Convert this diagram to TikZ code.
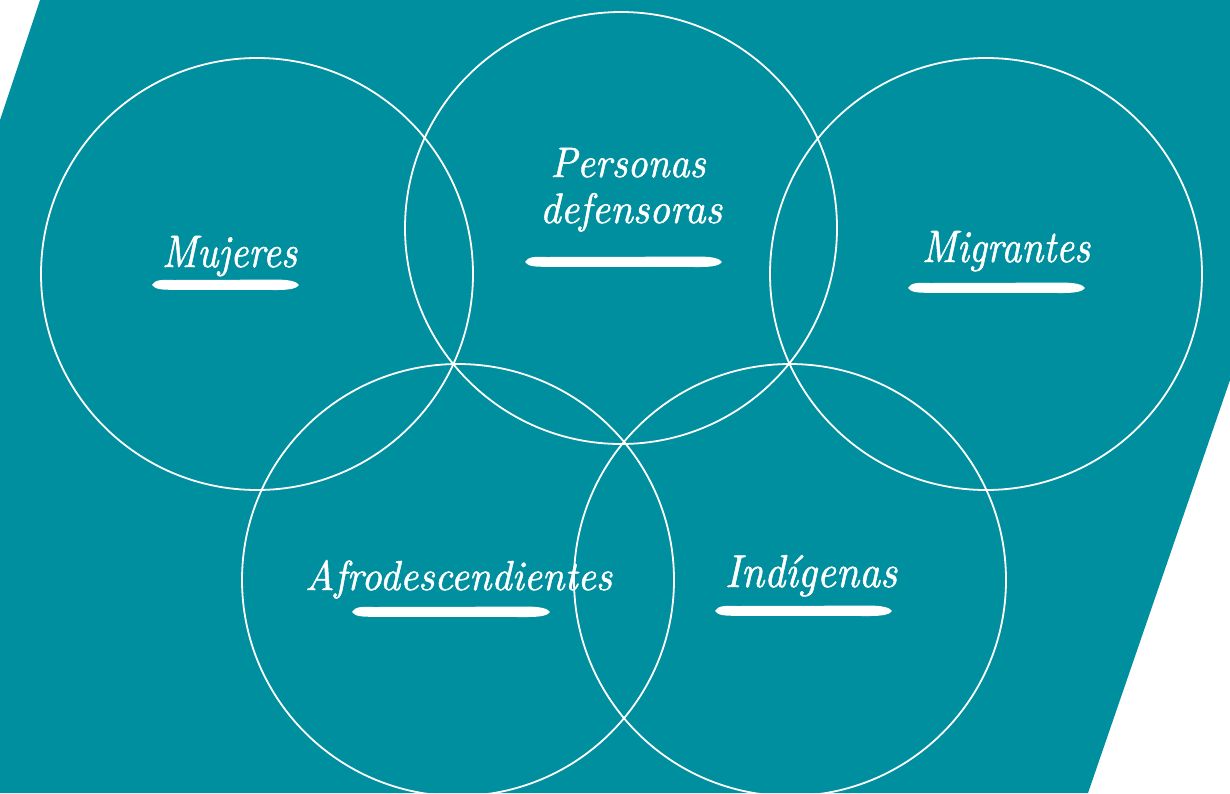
\documentclass[tikz,border=0pt]{standalone}
\usepackage{graphicx}
\usepackage{fontspec}
\newfontfamily\lblfont[FakeBold=1.2]{lmroman10-italic.otf}
\definecolor{teal1}{HTML}{008F9E}
\tikzset{
  ring/.style={circle, draw=white, line width=1.8pt, minimum size=432pt, inner sep=0pt},
  lbl/.style={text=white, inner sep=0pt, anchor=base, font=\lblfont},
}
\newcommand\brushline[3]{% x1, x2, y
  \fill[white] (#1,#3) .. controls (#1+3,#3-5.5) and (#1+10,#3-5.5) .. (#1+22,#3-5)
    -- (#2-22,#3-5.4) .. controls (#2-10,#3-5.4) and (#2-2,#3-3.5) .. (#2,#3)
    .. controls (#2-2,#3+3.5) and (#2-10,#3+5) .. (#2-22,#3+5)
    -- (#1+22,#3+4.8) .. controls (#1+10,#3+4.8) and (#1+3,#3+4.5) .. (#1,#3) -- cycle;}
\begin{document}
\begin{tikzpicture}[x=1pt,y=-1pt]
\useasboundingbox (0,0) rectangle (1230,793);
\fill[white] (0,0) rectangle (1230,793);
\fill[teal1] (40,0) -- (1230,0) -- (1230,380) -- (1088,793) -- (0,793) -- (0,120) -- cycle;
\node[ring] (c1) at (257,274) {};
\node[ring] (c2) at (621,228) {};
\node[ring] (c3) at (986,274) {};
\node[ring] (c4) at (458,580) {};
\node[ring] (c5) at (790,580) {};
\node[lbl] (t1) at (229.5,267) {\resizebox{135pt}{31pt}{Mujeres}};
\node[lbl] (t2a) at (628,177) {\resizebox{155pt}{29pt}{Personas}};
\node[lbl] (t2b) at (631,223) {\resizebox{182pt}{30pt}{defensoras}};
\node[lbl] (t3) at (1006,262) {\resizebox{168pt}{31pt}{Migrantes}};
\node[lbl] (t4) at (458.5,590) {\resizebox{307pt}{30pt}{Afrodescendientes}};
\node[lbl] (t5) at (811,587) {\resizebox{172pt}{32pt}{Ind\'{\i}genas}};
\brushline{152}{299}{285}
\brushline{525}{722}{262}
\brushline{908}{1085}{288}
\brushline{352}{550}{612}
\brushline{715}{892}{611}
\end{tikzpicture}
\end{document}
